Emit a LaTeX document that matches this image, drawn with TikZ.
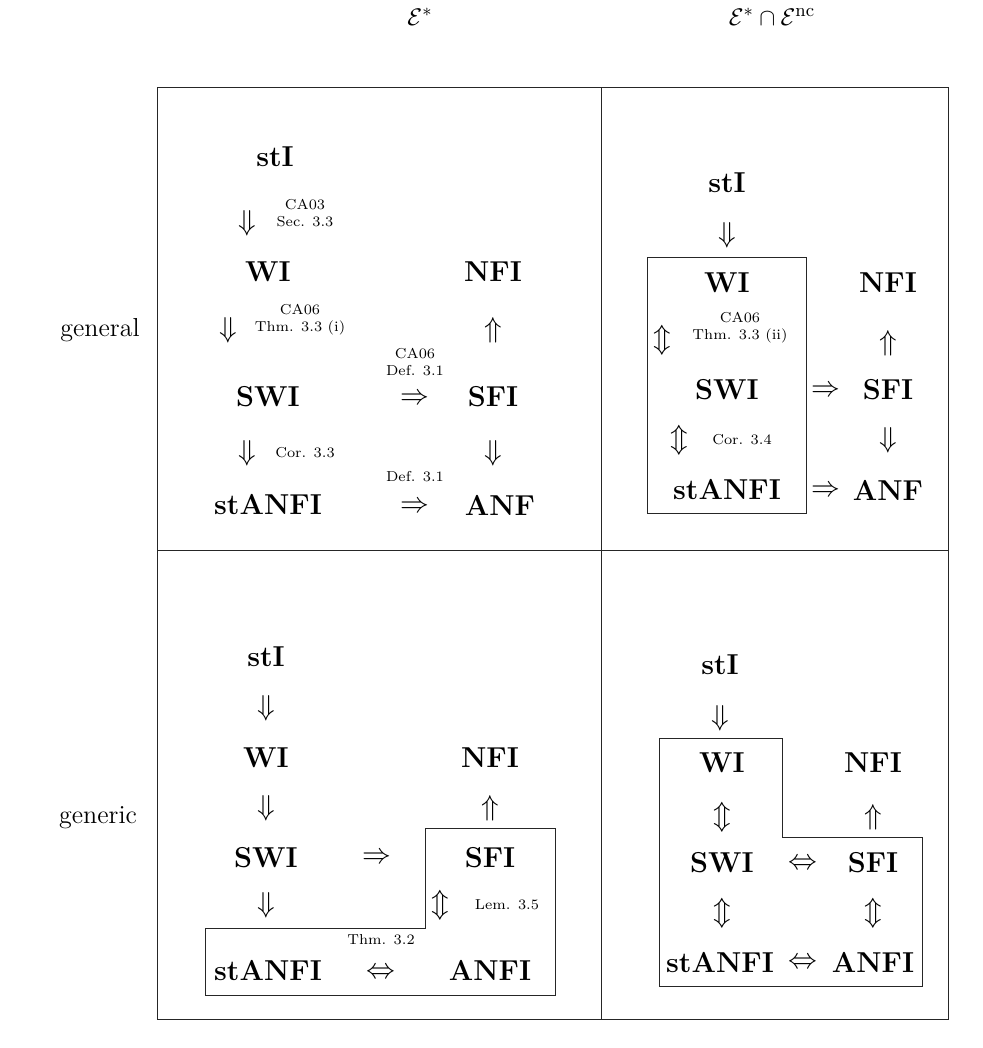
\documentclass[tikz,border=0pt]{standalone}
\usepackage{fontspec}
\tikzset{
  bx/.style={font=\fontsize{14.4}{17}\selectfont\bfseries, inner sep=0pt},
  ar/.style={font=\fontsize{14.4}{17}\selectfont, inner sep=0pt},
  lab/.style={font=\fontsize{7.2}{8.5}\selectfont\addfontfeatures{LetterSpace=15}, align=center, inner sep=0pt},
  rowlab/.style={font=\fontsize{13}{15}\selectfont, inner sep=0pt},
  ttl/.style={font=\fontsize{13}{15}\selectfont, inner sep=0pt},
  frame/.style={line width=0.5pt, draw=black!85},
  grp/.style={line width=0.45pt, draw=black!85}
}
\begin{document}
\begin{tikzpicture}[x=0.5pt,y=-0.5pt]
\useasboundingbox (0,0) rectangle (983,1048);
% titles
\node[ttl] (t1) at (420,17) {$\mathcal{E}^*$};
\node[ttl] (t2) at (772,17) {$\mathcal{E}^*\cap\mathcal{E}^{\mathrm{nc}}$};
% row labels
\node[rowlab] (r1) at (100,330) {general};
\node[rowlab] (r2) at (98,818) {generic};
% frame
\draw[frame] (157,88) rectangle (948,1019);
\draw[frame] (601,88) -- (601,1019);
\draw[frame] (157,550) -- (948,550);

% ---- cell 1 (general, E*)
\node[bx] (a1) at (275,157) {stI};
\node[ar] (a1d) at (247,223) {$\Downarrow$};
\node[lab] (a1l) at (305,213) {CA03\\Sec. 3.3};
\node[bx] (a2) at (268,272) {WI};
\node[bx] (a3) at (493,272) {NFI};
\node[ar] (a2d) at (228,330) {$\Downarrow$};
\node[lab] (a2l) at (300,320) {CA06\\Thm. 3.3 (i)};
\node[ar] (a3u) at (493,330) {$\Uparrow$};
\node[lab] (a4l) at (415,362) {CA06\\Def. 3.1};
\node[bx] (a4) at (268,397) {SWI};
\node[ar] (a4r) at (415,399) {$\Rightarrow$};
\node[bx] (a5) at (493,397) {SFI};
\node[ar] (a4d) at (247,453) {$\Downarrow$};
\node[lab] (a4dl) at (305,453) {Cor. 3.3};
\node[ar] (a5d) at (493,453) {$\Downarrow$};
\node[lab] (a6l) at (415,477) {Def. 3.1};
\node[bx] (a6) at (268,505) {stANFI};
\node[ar] (a6r) at (415,507) {$\Rightarrow$};
\node[bx] (a7) at (500,505) {ANF};

% ---- cell 2 (general, E* cap Enc)
\node[bx] (b1) at (727,183) {stI};
\node[ar] (b1d) at (727,235) {$\Downarrow$};
\draw[grp] (647,257) rectangle (806,513);
\node[bx] (b2) at (727,283) {WI};
\node[bx] (b3) at (888,283) {NFI};
\node[ar] (b2d) at (662,340) {$\Updownarrow$};
\node[lab] (b2l) at (740,328) {CA06\\Thm. 3.3 (ii)};
\node[ar] (b3u) at (888,343) {$\Uparrow$};
\node[bx] (b4) at (727,390) {SWI};
\node[ar] (b4r) at (826,391) {$\Rightarrow$};
\node[bx] (b5) at (888,390) {SFI};
\node[ar] (b4d) at (679,440) {$\Updownarrow$};
\node[lab] (b4l) at (742,440) {Cor. 3.4};
\node[ar] (b5d) at (888,440) {$\Downarrow$};
\node[bx] (b6) at (727,490) {stANFI};
\node[ar] (b6r) at (826,491) {$\Rightarrow$};
\node[bx] (b7) at (888,490) {ANF};

% ---- cell 3 (generic, E*)
\node[bx] (c1) at (266,657) {stI};
\node[ar] (c1d) at (266,708) {$\Downarrow$};
\node[bx] (c2) at (266,758) {WI};
\node[bx] (c3) at (490,758) {NFI};
\node[ar] (c2d) at (266,808) {$\Downarrow$};
\node[ar] (c3u) at (490,808) {$\Uparrow$};
\node[bx] (c4) at (266,858) {SWI};
\node[ar] (c4r) at (377,858) {$\Rightarrow$};
\node[bx] (c5) at (490,858) {SFI};
\node[ar] (c4d) at (266,905) {$\Downarrow$};
\node[ar] (c5d) at (440,905) {$\Updownarrow$};
\node[lab] (c5l) at (507,905) {Lem. 3.5};
\node[lab] (c6l) at (381,940) {Thm. 3.2};
\node[bx] (c6) at (268,970) {stANFI};
\node[ar] (c6r) at (381,973) {$\Leftrightarrow$};
\node[bx] (c7) at (490,970) {ANFI};
\draw[grp] (205,928) -- (425,928) -- (425,828) -- (555,828) -- (555,995) -- (205,995) -- cycle;

% ---- cell 4 (generic, E* cap Enc)
\node[bx] (d1) at (720,665) {stI};
\node[ar] (d1d) at (720,718) {$\Downarrow$};
\draw[grp] (659,738) -- (782,738) -- (782,837) -- (922,837) -- (922,986) -- (659,986) -- cycle;
\node[bx] (d2) at (722,763) {WI};
\node[bx] (d3) at (873,763) {NFI};
\node[ar] (d2d) at (722,817) {$\Updownarrow$};
\node[ar] (d3u) at (873,817) {$\Uparrow$};
\node[bx] (d4) at (722,863) {SWI};
\node[ar] (d4r) at (803,864) {$\Leftrightarrow$};
\node[bx] (d5) at (873,863) {SFI};
\node[ar] (d4d) at (722,913) {$\Updownarrow$};
\node[ar] (d5d) at (873,913) {$\Updownarrow$};
\node[bx] (d6) at (720,962) {stANFI};
\node[ar] (d6r) at (803,963) {$\Leftrightarrow$};
\node[bx] (d7) at (873,962) {ANFI};
\end{tikzpicture}
\end{document}
